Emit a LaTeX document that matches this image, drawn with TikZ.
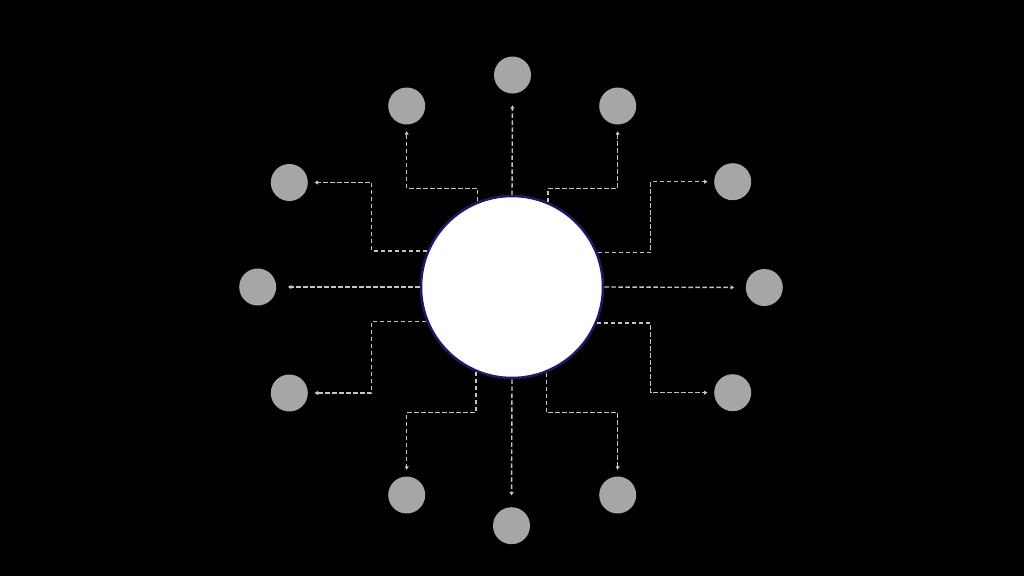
\documentclass[tikz,border=0pt]{standalone}
\usetikzlibrary{arrows.meta}
\definecolor{satgray}{HTML}{A6A6A6}
\definecolor{dashgray}{HTML}{C4C4C4}
\definecolor{rimpurple}{HTML}{2A1466}
\begin{document}
\begin{tikzpicture}[x=1pt,y=-1pt,
  sat/.style={circle,fill=satgray,minimum size=37pt,inner sep=0pt},
  hub/.style={circle,fill=white,draw=rimpurple,line width=2.5pt,minimum size=182pt,inner sep=0pt},
  conn/.style={draw=dashgray,line width=1.4pt,dash pattern=on 4.5pt off 2.5pt,
    -{Triangle[length=3.5pt,width=4pt]},shorten >=6.5pt},
  connlong/.style={conn,shorten >=11.5pt}]
\fill[black] (0,0) rectangle (1024,576);
\useasboundingbox (0,0) rectangle (1024,576);
\node[hub] (c) at (512,287) {};
\node[sat] (st)  at (512.5,75) {};
\node[sat] (stl) at (406.7,106) {};
\node[sat] (str) at (617.7,106) {};
\node[sat] (sul) at (289.3,182.5) {};
\node[sat] (sur) at (732.7,181.7) {};
\node[sat] (sl)  at (257.7,287) {};
\node[sat] (sr)  at (764.3,287.5) {};
\node[sat] (sll) at (289.3,393) {};
\node[sat] (slr) at (732.7,392.7) {};
\node[sat] (sbl) at (406.7,495) {};
\node[sat] (sbr) at (617.7,495) {};
\node[sat] (sb)  at (511.5,525.7) {};
% bends
\coordinate (btl) at (406.7,188.3);
\coordinate (btr) at (617.7,188.3);
\coordinate (bul) at (371.7,182.5);
\coordinate (bur) at (650.7,181.7);
\coordinate (bll) at (371.7,393);
\coordinate (blr) at (650.7,392.7);
\coordinate (bbl) at (406.7,412.7);
\coordinate (bbr) at (617.7,412.7);
% connectors
\draw[connlong] (c.north) -- (st.south);
\draw[connlong] (c.south) -- (sb.north);
\draw[connlong] (c.west) -- (sl.east);
\draw[connlong] (c.east) -- (sr.west);
\draw[conn] (c.112.4) |- (btl) -- (stl.south);
\draw[conn] (c.67.6) |- (btr) -- (str.south);
\draw[conn] (c.247.6) |- (bbl) -- (sbl.north);
\draw[conn] (c.292.4) |- (bbr) -- (sbr.north);
\draw[conn] (c.157.6) -| (bul) -- (sul.east);
\draw[conn] (c.22.4) -| (bur) -- (sur.west);
\draw[conn] (c.202.4) -| (bll) -- (sll.east);
\draw[conn] (c.337.6) -| (blr) -- (slr.west);
\end{tikzpicture}
\end{document}
